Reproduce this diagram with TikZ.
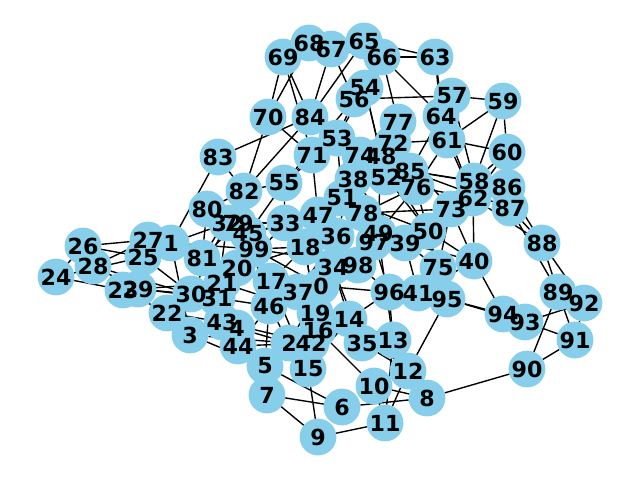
\documentclass[tikz,border=0pt]{standalone}
\usepackage{fontspec}
\newfontfamily\lblfont{DejaVu Sans}
\definecolor{skyblue}{HTML}{87CEEB}
\pgfdeclarelayer{edges}
\pgfdeclarelayer{labels}
\pgfsetlayers{edges,main,labels}
\tikzset{
  vtx/.style={circle, fill=skyblue, draw=none, minimum size=0.368in, inner sep=0pt, outer sep=0pt},
  lbl/.style={inner sep=0pt, font=\lblfont\bfseries\fontsize{16}{16}\selectfont, text=black},
  edge/.style={draw=black, line width=1pt}
}
\begin{document}
\begin{tikzpicture}[x=0.01in, y=-0.01in]
\useasboundingbox (0,0) rectangle (640,480);
\foreach \i/\x/\y in {
0/321/286, 1/171/243, 2/289/343, 3/190/335, 4/237/328, 5/265/366, 6/342/407, 7/267/395,
8/427/398, 9/318/437, 10/374/386, 11/385/423, 12/408/371, 13/393/340, 14/349/319, 15/308/369,
16/318/330, 17/271/281, 18/305/247, 19/315/313, 20/237/268, 21/222/283, 22/167/313, 23/123/290,
24/56/277, 25/143/257, 26/83/246, 27/148/240, 28/93/266, 29/138/289, 30/191/294, 31/217/298,
32/227/223, 33/285/223, 34/333/267, 35/362/343, 36/336/236, 37/298/292, 38/353/179, 39/405/243,
40/474/261, 41/418/293, 42/311/343, 43/222/322, 44/238/346, 45/248/234, 46/269/306, 47/318/215,
48/381/156, 49/378/233, 50/428/231, 51/342/198, 52/386/177, 53/337/138, 54/365/88, 55/284/183,
56/354/99, 57/452/96, 58/474/181, 59/503/101, 60/507/152, 61/447/140, 62/473/198, 63/435/57,
64/441/116, 65/364/41, 66/382/57, 67/331/49, 68/309/43, 69/283/57, 70/268/117, 71/312/155,
72/393/143, 73/451/209, 74/360/155, 75/438/268, 76/416/187, 77/398/122, 78/363/213, 79/238/223,
80/207/209, 81/202/258, 82/244/191, 83/218/157, 84/310/117, 85/410/171, 86/507/187, 87/510/208,
88/542/243, 89/558/292, 90/527/369, 91/575/340, 92/584/303, 93/525/322, 94/503/314, 95/447/299,
96/389/292, 97/374/242, 98/358/265, 99/254/249}
  \node[vtx] (n\i) at (\x,\y) {};
\begin{pgfonlayer}{edges}
\foreach \a/\b in {
0/2, 0/99, 0/98, 1/3, 1/99, 2/3, 2/4, 3/4, 3/5, 4/5, 5/6, 5/7, 6/7, 6/8, 7/9, 8/10, 9/11,
10/11, 10/12, 11/12, 11/13, 12/13, 12/14, 13/14, 14/15, 14/16, 15/16, 15/17, 16/17, 16/18,
17/18, 17/19, 18/19, 18/20, 19/20, 19/21, 20/21, 20/22, 21/22, 21/23, 22/23, 23/24, 23/25,
24/25, 24/26, 25/26, 25/27, 26/27, 26/28, 27/28, 27/29, 28/29, 28/30, 29/30, 29/31, 30/31,
30/32, 31/32, 31/33, 32/33, 33/34, 34/35, 34/36, 35/37, 36/37, 36/38, 38/39, 39/40, 39/41,
40/41, 42/43, 42/44, 43/44, 43/45, 44/46, 45/46, 45/47, 47/49, 48/49, 48/50, 49/50, 49/51,
50/51, 50/52, 51/52, 51/53, 52/53, 52/54, 53/54, 53/55, 54/56, 55/56, 56/57, 57/58, 57/59,
58/59, 58/60, 59/60, 59/61, 60/61, 60/62, 61/62, 61/63, 62/64, 63/64, 63/65, 64/66, 65/66,
65/67, 66/67, 66/68, 67/68, 67/69, 68/69, 68/70, 69/70, 69/71, 70/71, 71/72, 72/73, 72/74,
73/75, 74/76, 75/76, 76/77, 76/78, 79/80, 79/81, 80/81, 80/82, 81/82, 82/83, 82/84, 83/84,
85/86, 85/87, 86/87, 86/88, 87/88, 87/89, 88/89, 89/90, 89/91, 90/91, 91/92, 91/93, 92/93,
93/95, 94/95, 95/96, 96/97, 96/98, 97/98, 98/99,
40/94, 9/15, 8/90, 16/10, 95/12, 35/12, 96/13, 14/96, 0/96, 34/14, 49/13, 50/40, 73/40,
62/40, 39/75, 78/73, 76/62, 85/58, 64/85, 61/76, 61/72, 62/88, 66/77, 66/63, 67/56, 65/84,
67/84, 69/84, 70/82, 71/55, 71/47, 53/38, 53/56, 54/48, 83/1, 1/32, 25/30, 22/43, 99/18,
82/55, 55/45, 55/33, 45/33, 46/5, 46/2, 49/76, 31/46, 20/17, 17/37, 88/92}
  \draw[edge] (n\a) -- (n\b);
\end{pgfonlayer}
\begin{pgfonlayer}{labels}
\foreach \i in {0,...,99}
  \node[lbl] (l\i) at (n\i.center) {\i};
\end{pgfonlayer}
\end{tikzpicture}
\end{document}
